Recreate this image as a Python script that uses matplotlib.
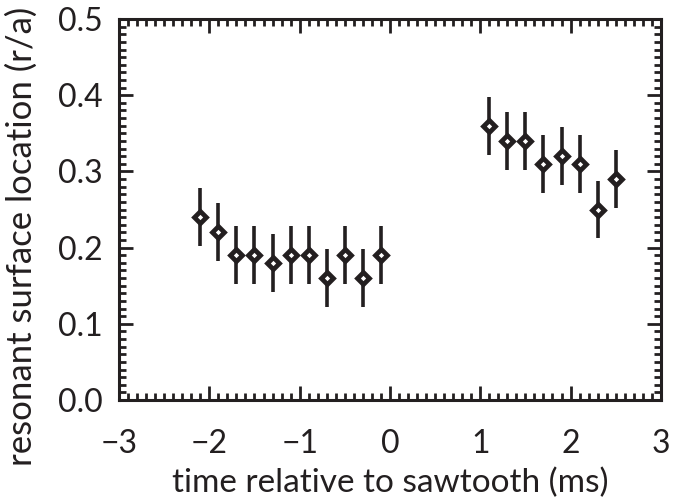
import matplotlib
matplotlib.use("Agg")
import matplotlib.pyplot as plt
from matplotlib.ticker import MultipleLocator, FormatStrFormatter

# time relative to sawtooth crash (ms) and resonant surface location (r/a)
t_before = [-2.1, -1.9, -1.7, -1.5, -1.3, -1.1, -0.9, -0.7, -0.5, -0.3, -0.1]
r_before = [0.24, 0.22, 0.19, 0.19, 0.18, 0.19, 0.19, 0.16, 0.19, 0.16, 0.19]
t_after = [1.1, 1.3, 1.5, 1.7, 1.9, 2.1, 2.3, 2.5]
r_after = [0.36, 0.34, 0.34, 0.31, 0.32, 0.31, 0.25, 0.29]
r_err = 0.038

x_ticks = [-3, -2, -1, 0, 1, 2, 3]
y_ticks = [0.0, 0.1, 0.2, 0.3, 0.4, 0.5]

plt.rcParams['font.family'] = ['Lato', 'DejaVu Sans']
ink = '#231f20'

fig = plt.figure(figsize=(6.82, 5.01), dpi=100)
ax = fig.add_axes([0.1745, 0.2016, 0.7945, 0.7604])

for t, r in [(t_before, r_before), (t_after, r_after)]:
    ax.errorbar(t, r, yerr=r_err, fmt='D', color=ink, ecolor=ink,
                elinewidth=2.6, capsize=0, markersize=6,
                markerfacecolor='white', markeredgecolor=ink,
                markeredgewidth=3.4)

ax.set_xlim(-3, 3)
ax.set_ylim(0, 0.5)
ax.set_xticks(x_ticks)
ax.set_yticks(y_ticks)
ax.yaxis.set_major_formatter(FormatStrFormatter('%.1f'))
ax.xaxis.set_minor_locator(MultipleLocator(0.1))
ax.yaxis.set_minor_locator(MultipleLocator(0.01))

ax.tick_params(which='both', direction='in', top=True, right=True,
               color=ink, width=2)
ax.tick_params(which='major', length=10, labelsize=23, labelcolor=ink)
ax.tick_params(axis='x', which='major', pad=21)
ax.tick_params(axis='y', which='major', pad=12)
ax.tick_params(which='minor', length=5)
for s in ax.spines.values():
    s.set_linewidth(2.2)
    s.set_color(ink)

ax.set_xlabel('time relative to sawtooth (ms)', fontsize=24, color=ink,
              va='baseline')
ax.xaxis.set_label_coords(0.5, -0.242)
ax.set_ylabel('resonant surface location (r/a)', fontsize=25, color=ink)
ax.yaxis.set_label_coords(-0.15, 0.43)

fig.savefig('out.png', dpi=100)
